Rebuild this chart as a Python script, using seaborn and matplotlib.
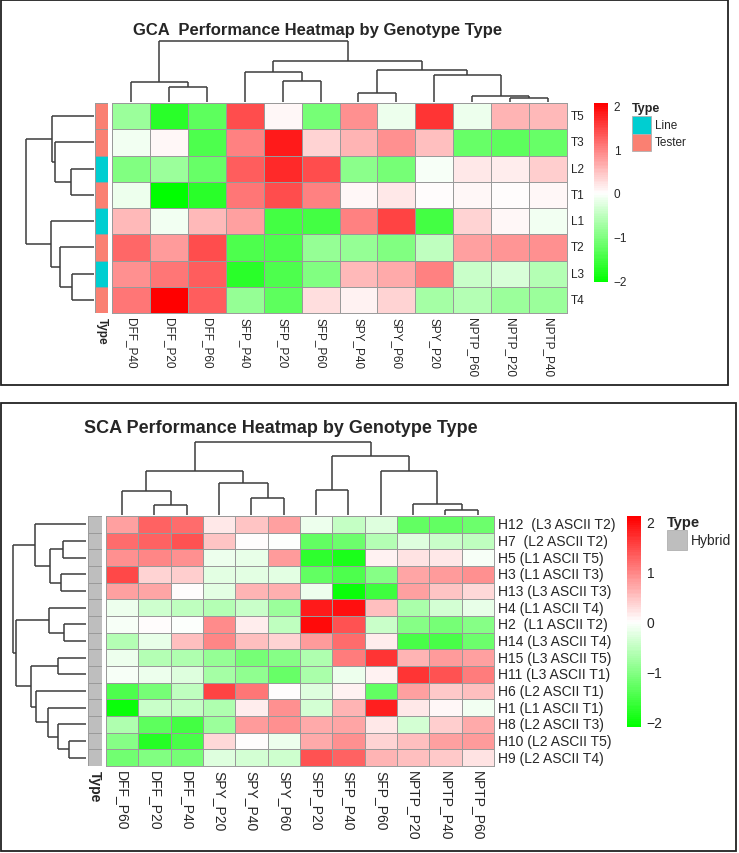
import numpy as np
import pandas as pd
import matplotlib
matplotlib.use("Agg")
import matplotlib.pyplot as plt
import seaborn as sns
from matplotlib.colors import LinearSegmentedColormap, ListedColormap
from matplotlib.patches import Rectangle

sns.set_style("white")
plt.rcParams["font.family"] = ["Liberation Sans", "DejaVu Sans"]

# ---------------- GCA data ----------------
gca_rows = ["T5", "T3", "L2", "T1", "L1", "T2", "L3", "T4"]
gca_types = ["Tester", "Tester", "Line", "Tester", "Line", "Tester", "Line", "Tester"]
gca_cols = ["DFF_P40", "DFF_P20", "DFF_P60", "SFP_P40", "SFP_P20", "SFP_P60",
            "SPY_P40", "SPY_P60", "SPY_P20", "NPTP_P60", "NPTP_P20", "NPTP_P40"]
gca_values = [
    [-0.8, -1.7, -1.3, 1.4, 0.05, -1.1, 0.9, -0.15, 1.6, -0.15, 0.6, 0.55],
    [-0.1, 0.05, -1.4, 1.0, 1.8, 0.35, 0.6, 0.9, 0.5, -1.2, -1.3, -1.2],
    [-1.0, -0.8, -1.2, 1.3, 1.7, 1.4, -0.9, -1.1, -0.05, 0.2, 0.15, 0.4],
    [-0.15, -2.0, -1.7, 1.1, 1.4, 1.0, 0.05, 0.2, 0.02, 0.05, 0.03, 0.05],
    [0.55, -0.1, 0.55, 0.75, -1.5, -1.5, 1.0, 1.5, -1.5, 0.35, 0.05, -0.1],
    [1.2, 0.8, 1.4, -1.4, -1.4, -0.85, -0.85, -1.0, -0.5, 0.75, 0.85, 0.9],
    [0.9, 1.1, 1.3, -1.7, -1.4, -1.0, 0.55, 0.65, 1.0, -0.45, -0.3, -0.6],
    [1.1, 2.05, 1.3, -0.85, -1.3, 0.25, 0.1, 0.35, -0.7, -0.6, -0.8, -0.8],
]
# merges (left, right, height) in display order, leaves 0..n-1
gca_col_links = [(1, 2, 15.7), (0, 12, 20), (4, 5, 21.3), (3, 14, 30),
                 (6, 7, 8.7), (10, 11, 3.7), (9, 17, 6.3), (8, 18, 27.7),
                 (16, 19, 32.7), (15, 20, 42), (13, 21, 62)]
gca_row_links = [(2, 3, 22.6), (1, 8, 39), (0, 9, 42), (6, 7, 21.6),
                 (5, 11, 33.5), (4, 12, 42.6), (10, 13, 68)]

# ---------------- SCA data ----------------
sca_rows = ["H12  (L3 ASCII T2)", "H7  (L2 ASCII T2)", "H5 (L1 ASCII T5)",
            "H3 (L1 ASCII T3)", "H13 (L3 ASCII T3)", "H4 (L1 ASCII T4)",
            "H2  (L1 ASCII T2)", "H14 (L3 ASCII T4)", "H15 (L3 ASCII T5)",
            "H11 (L3 ASCII T1)", "H6 (L2 ASCII T1)", "H1 (L1 ASCII T1)",
            "H8 (L2 ASCII T3)", "H10 (L2 ASCII T5)", "H9 (L2 ASCII T4)"]
sca_types = ["Hybrid"] * 15
sca_cols = ["DFF_P60", "DFF_P20", "DFF_P40", "SPY_P20", "SPY_P40", "SPY_P60",
            "SFP_P20", "SFP_P40", "SFP_P60", "NPTP_P20", "NPTP_P40", "NPTP_P60"]
sca_values = [
    [0.8, 1.3, 1.2, 0.2, 0.5, 0.8, -0.15, -0.5, -0.3, -1.3, -1.3, -1.2],
    [1.2, 1.3, 1.4, 0.5, 0.0, -0.02, -1.3, -1.2, -0.6, -0.3, -0.45, -0.55],
    [0.9, 1.0, 0.9, -0.15, -0.2, 0.85, -1.7, -1.9, 0.1, 0.25, 0.2, -0.05],
    [1.5, 0.35, 0.4, -0.25, -0.25, -0.25, -1.3, -1.45, -1.0, 0.75, 0.85, 0.9],
    [0.8, 0.75, 0.0, -0.25, 0.6, 0.65, -0.15, -2.0, -1.6, 0.8, 0.5, 0.3],
    [-0.15, -0.4, -0.55, -0.6, -0.45, -0.8, 1.9, 1.95, 0.55, -0.7, -0.35, -0.2],
    [-0.08, 0.0, -0.02, 0.95, 0.15, -0.55, 2.0, 1.4, -0.45, -1.0, -1.1, -1.0],
    [-0.6, -0.2, 0.55, 1.0, 0.55, 0.35, 0.85, 1.2, 0.15, -1.5, -1.5, -1.2],
    [-0.15, -0.6, -0.65, -0.85, -1.1, -1.0, -0.65, 1.05, 1.65, 0.6, 0.85, 0.8],
    [-0.05, -0.15, -0.3, -0.75, -0.9, -1.25, -0.7, -0.15, 0.1, 1.65, 1.4, 1.05],
    [-1.45, -1.1, -0.55, 1.55, 1.1, 0.0, -0.3, 0.1, -1.3, 0.8, 0.45, 0.55],
    [-2.0, -0.45, -0.5, -0.65, 0.15, 0.9, -0.35, 0.6, 1.85, 0.2, 0.07, -0.1],
    [-0.65, -1.35, -1.55, -0.8, 0.85, 0.9, 0.7, 0.75, 0.2, -0.35, 0.4, 0.7],
    [-1.0, -1.8, -1.5, 0.3, 0.0, -0.15, 0.7, 0.9, 0.35, 0.55, 0.8, 0.85],
    [-1.15, -1.05, -1.1, -0.3, -0.35, -0.4, 1.4, 1.3, 0.6, 0.55, 0.45, 0.25],
]
sca_col_links = [(1, 2, 10), (0, 12, 24), (4, 5, 17), (3, 14, 32), (13, 15, 43),
                 (6, 7, 25), (10, 11, 5), (9, 18, 11), (8, 19, 43), (17, 20, 58),
                 (16, 21, 72)]
sca_row_links = [(1, 2, 23), (3, 4, 25), (15, 16, 36), (0, 17, 51),
                 (6, 7, 22), (5, 19, 37), (8, 9, 28), (13, 14, 17), (12, 22, 28),
                 (11, 23, 38), (10, 24, 50), (21, 25, 55), (20, 26, 70), (18, 27, 73)]

W, H = 739, 854
fig = plt.figure(figsize=(W / 100, H / 100), dpi=100)
heat_cmap = LinearSegmentedColormap.from_list("gwr", ["#00FF00", "#FFFFFF", "#FF0000"], N=100)
grid_col = "#9a9a9a"


def px_axes(x0, y0, x1, y1):
    return fig.add_axes([x0 / W, 1 - y1 / H, (x1 - x0) / W, (y1 - y0) / H])


def px_rect(x0, y0, x1, y1, **kw):
    fig.patches.append(Rectangle((x0 / W, 1 - y1 / H), (x1 - x0) / W, (y1 - y0) / H,
                                 transform=fig.transFigure, **kw))


def draw_dendro(ax, links, n, side):
    pos = {i: i + 0.5 for i in range(n)}
    hgt = {i: 0.0 for i in range(n)}
    for k, (a, b, h) in enumerate(links):
        segs = [([pos[a], pos[a]], [hgt[a], h]),
                ([pos[a], pos[b]], [h, h]),
                ([pos[b], pos[b]], [h, hgt[b]])]
        for p, q in segs:
            if side == "top":
                ax.plot(p, q, color="#3c3c3c", lw=1.1, clip_on=False, solid_capstyle="butt")
            else:
                ax.plot(q, p, color="#3c3c3c", lw=1.1, clip_on=False, solid_capstyle="butt")
        pos[n + k] = (pos[a] + pos[b]) / 2
        hgt[n + k] = h
    top = max(h for _, _, h in links)
    if side == "top":
        ax.set_xlim(0, n)
        ax.set_ylim(0, top)
    else:
        ax.set_ylim(n, 0)
        ax.set_xlim(top, 0)
    ax.axis("off")


def panel(box, title, title_xy, title_size, rows, cols, values, types, type_colors,
          col_links, row_links, heat_box, ann_box, cdend_box, rdend_box, cbar_box,
          vlim, fs, leg):
    px_rect(*box, fill=False, edgecolor="#222222", lw=1.3)
    fig.text(title_xy[0] / W, 1 - title_xy[1] / H, title, fontsize=title_size,
             fontweight="bold", ha="left", va="center")

    df = pd.DataFrame(values, index=rows, columns=cols)
    ax = px_axes(*heat_box)
    cax = px_axes(*cbar_box)
    sns.heatmap(df, ax=ax, cmap=heat_cmap, vmin=vlim[0], vmax=vlim[1], center=0,
                linewidths=0.7, linecolor=grid_col, cbar_ax=cax,
                xticklabels=True, yticklabels=True,
                cbar_kws={"ticks": [-2, -1, 0, 1, 2]})
    ax.yaxis.tick_right()
    ax.set_yticks(np.arange(len(rows)) + 0.5)
    ax.set_yticklabels(rows, rotation=0, fontsize=fs, va="center")
    ax.set_xticks(np.arange(len(cols)) + 0.5)
    ax.set_xticklabels(cols, rotation=270, fontsize=fs, ha="center", va="top")
    ax.tick_params(length=0, pad=3)
    ax.set_xlabel("")
    ax.set_ylabel("")
    for s in ax.spines.values():
        s.set_visible(True)
        s.set_color(grid_col)
        s.set_linewidth(0.7)
    cbar = ax.collections[0].colorbar
    cbar.outline.set_visible(False)
    cax.tick_params(length=0, labelsize=fs, pad=4)

    levels = list(type_colors.keys())
    codes = pd.DataFrame({"Type": [levels.index(t) for t in types]}, index=rows)
    aax = px_axes(*ann_box)
    sns.heatmap(codes, ax=aax, cmap=ListedColormap(list(type_colors.values())),
                vmin=-0.5, vmax=len(levels) - 0.5, cbar=False,
                linewidths=0.7, linecolor=grid_col, xticklabels=True, yticklabels=False)
    aax.set_ylabel("")
    aax.set_xticks([0.5])
    aax.set_xticklabels(["Type"], rotation=270, fontsize=fs, fontweight="bold",
                        ha="center", va="top")
    aax.tick_params(length=0, pad=3)

    draw_dendro(px_axes(*cdend_box), col_links, len(cols), "top")
    draw_dendro(px_axes(*rdend_box), row_links, len(rows), "left")

    # legend for the annotation column
    lx, ly, sw, sh = leg
    fig.text(lx / W, 1 - ly / H, "Type", fontsize=fs + 0.5, fontweight="bold",
             ha="left", va="center")
    for i, (lvl, col) in enumerate(type_colors.items()):
        y0 = ly + 8 + i * sh
        px_rect(lx, y0, lx + sw, y0 + sh, facecolor=col, edgecolor="#b0b0b0", lw=0.6)
        fig.text((lx + sw + 4) / W, 1 - (y0 + sh / 2) / H, lvl, fontsize=fs,
                 ha="left", va="center")


panel(box=(1, 1, 728, 386), title="GCA  Performance Heatmap by Genotype Type",
      title_xy=(133, 31), title_size=12, rows=gca_rows, cols=gca_cols,
      values=gca_values, types=gca_types,
      type_colors={"Line": "#00CED1", "Tester": "#FA8072"},
      col_links=gca_col_links, row_links=gca_row_links,
      heat_box=(112, 104, 567, 314), ann_box=(95, 104, 108, 314),
      cdend_box=(112, 42, 567, 103), rdend_box=(26, 104, 94, 314),
      cbar_box=(594, 104, 608, 283), vlim=(-2.03, 2.05), fs=8.5,
      leg=(632, 109, 19, 17.5))

panel(box=(1, 404, 736, 852), title="SCA Performance Heatmap by Genotype Type",
      title_xy=(84, 429), title_size=13, rows=sca_rows, cols=sca_cols,
      values=sca_values, types=sca_types,
      type_colors={"Hybrid": "#BEBEBE"},
      col_links=sca_col_links, row_links=sca_row_links,
      heat_box=(106, 517, 494, 767), ann_box=(88, 517, 102, 767),
      cdend_box=(106, 443, 494, 516), rdend_box=(13, 517, 86, 767),
      cbar_box=(627, 517, 641, 728), vlim=(-2.1, 2.12), fs=10,
      leg=(667, 523, 20, 20))

fig.savefig("out.png", dpi=100, facecolor="white")
